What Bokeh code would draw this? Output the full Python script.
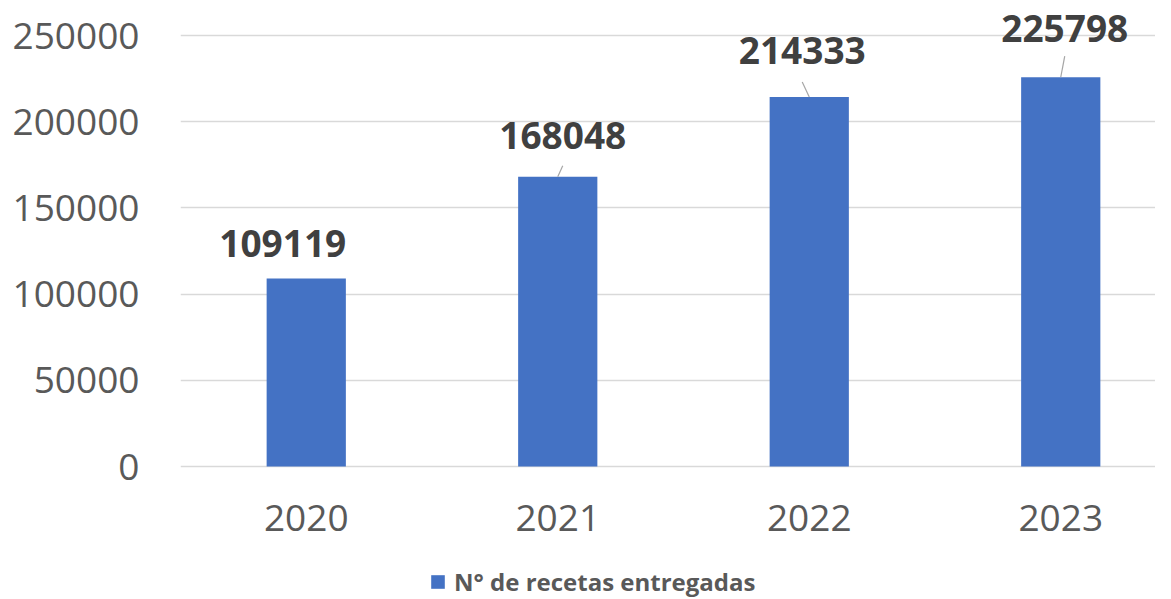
from bokeh.plotting import figure
from bokeh.models import ColumnDataSource, Range1d, FixedTicker, Legend, LegendItem, NumeralTickFormatter
from bokeh.core.properties import value
from bokeh.embed import file_html
from bokeh.resources import INLINE

years = ["2020", "2021", "2022", "2023"]
recetas = [109119, 168048, 214333, 225798]
series_name = "N° de recetas entregadas"

# styling (pixel offsets for data labels and leader lines)
PX_X = 251.5               # px per category
PX_Y = 431 / 250000        # px per unit on y
label_dx = [-23.5, 5, -7, 4]
label_dy = [35, 41, 46, 49]
leader_dx = [0, 5, -7, 4]
leader_dy = [0, 11, 15, 21]
show_leader = [False, True, True, True]

BLUE = "#4472C4"
FONT = "Open Sans"

xs = list(range(len(years)))
src = ColumnDataSource(dict(
    x=xs, top=recetas,
    lx=[x + dx / PX_X for x, dx in zip(xs, label_dx)],
    ly=[v + dy / PX_Y for v, dy in zip(recetas, label_dy)],
    txt=[str(v) for v in recetas],
))
lead = [i for i, s in enumerate(show_leader) if s]
lsrc = ColumnDataSource(dict(
    x0=[xs[i] for i in lead], y0=[recetas[i] for i in lead],
    x1=[xs[i] + leader_dx[i] / PX_X for i in lead],
    y1=[recetas[i] + leader_dy[i] / PX_Y for i in lead],
))

W, H = 1155, 599
LEFT, TOP, ZERO = 180, 8, 466
FW, FH = W - LEFT, H - TOP
p = figure(frame_width=FW, frame_height=FH, output_backend="svg", toolbar_location=None,
           x_range=Range1d(-0.5, -0.5 + FW / PX_X),
           y_range=Range1d(-(H - ZERO) / PX_Y, 250000 + (ZERO - TOP - 431) / PX_Y),
           min_border_left=LEFT, min_border_right=0, min_border_top=TOP,
           min_border_bottom=0)
p.outline_line_color = None
p.background_fill_color = "white"
p.border_fill_color = "white"

r = p.vbar(x="x", top="top", width=0.315, source=src, fill_color=BLUE, line_color=None)
p.segment(x0="x0", y0="y0", x1="x1", y1="y1", source=lsrc, line_color="#a6a6a6", line_width=1.2)
p.text(x="lx", y="ly", text="txt", source=src, text_align="center", text_baseline="middle",
       text_font=value(FONT), text_font_style="bold", text_font_size="37px", text_color="#404040")

p.yaxis.ticker = FixedTicker(ticks=[0, 50000, 100000, 150000, 200000, 250000])
p.yaxis.formatter = NumeralTickFormatter(format="0")
p.yaxis.axis_line_color = None
p.yaxis.major_tick_line_color = None
p.yaxis.minor_tick_line_color = None
p.yaxis.major_tick_in = 0
p.yaxis.major_tick_out = 0
p.yaxis.major_label_standoff = 41
p.yaxis.major_label_text_font = FONT
p.yaxis.major_label_text_font_size = "37px"
p.yaxis.major_label_text_color = "#595959"

p.xaxis.fixed_location = 0
p.xaxis.ticker = FixedTicker(ticks=xs)
p.xaxis.major_label_overrides = {i: y for i, y in zip(xs, years)}
p.xaxis.axis_line_color = None
p.xaxis.major_tick_line_color = None
p.xaxis.minor_tick_line_color = None
p.xaxis.major_tick_in = 0
p.xaxis.major_tick_out = 0
p.xaxis.major_label_standoff = 38
p.xaxis.major_label_text_font = FONT
p.xaxis.major_label_text_font_size = "37px"
p.xaxis.major_label_text_color = "#595959"

p.xgrid.grid_line_color = None
p.ygrid.grid_line_color = "#d9d9d9"
p.ygrid.grid_line_width = 1.5

legend = Legend(items=[LegendItem(label=series_name, renderers=[r])],
                orientation="horizontal", location=(429 - LEFT, 1),
                label_text_font=FONT, label_text_font_style="bold",
                label_text_font_size="24px", label_text_color="#595959",
                glyph_width=17, glyph_height=17, border_line_color=None,
                background_fill_alpha=0, padding=0, margin=0, spacing=0,
                label_standoff=8)
p.add_layout(legend, "center")

open("out.html", "w").write(file_html(p, INLINE))
